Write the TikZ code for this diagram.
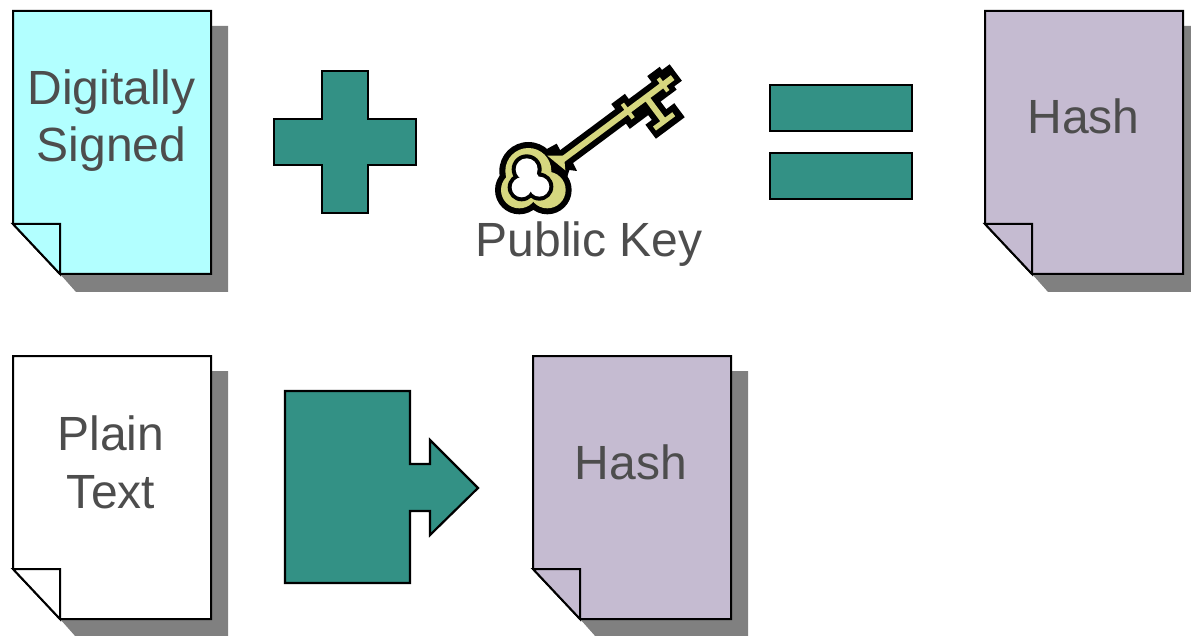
\documentclass[tikz,border=0pt]{standalone}
\usepackage{fontspec}
\setmainfont{Liberation Sans}
\definecolor{teal}{HTML}{339185}
\definecolor{hashc}{HTML}{C5BBD1}
\definecolor{cyanc}{HTML}{B2FFFF}
\definecolor{shad}{HTML}{808080}
\definecolor{txt}{HTML}{4D4D4D}
\definecolor{keyy}{HTML}{D6D77F}
\tikzset{
  docbody/.style={draw=black,line width=2pt,line join=miter},
  docshadow/.style={fill=shad,draw=none},
  tealshape/.style={fill=teal,draw=black,line width=2.2pt,line join=miter},
  label/.style={text=txt,font=\fontsize{48}{48}\selectfont,inner sep=0pt,anchor=base},
  keyframe/.style={shift={(562,160)},x={(.802pt,.597pt)},y={(.597pt,-.802pt)}},
  bowframe/.style={shift={(490,135)},x=0.3333pt,y=-0.3333pt}
}
\newcommand{\docsheet}[3]{%
  \fill[docshadow,shift={(#1,#2)}] (16,15) -- (215,15) -- (215,281) -- (63,281) -- (47,263) -- (16,230) -- cycle;
  \filldraw[docbody,fill=#3,shift={(#1,#2)}] (0,0) -- (198,0) -- (198,263) -- (47,263) -- (0,213) -- cycle;
  \draw[docbody,fill=#3,shift={(#1,#2)}] (0,213) -- (47,213) -- (47,263) -- cycle;
}
\begin{document}
\begin{tikzpicture}[x=1pt,y=-1pt]
\useasboundingbox (0,0) rectangle (1191,636);
\docsheet{13}{11}{cyanc}
\docsheet{985}{11}{hashc}
\docsheet{13}{356}{white}
\docsheet{533}{356}{hashc}
\node[label] (ds1) at (111.5,105) {Digitally};
\node[label] (ds2) at (111.5,162) {Signed};
\node[label] (h1) at (1083.5,133.5) {Hash};
\node[label] (pt1) at (111,450) {Plain};
\node[label] (pt2) at (111,508.5) {Text};
\node[label] (h2) at (631,479.5) {Hash};
\node[label] (pk) at (589,257) {Public Key};
% plus
\draw[tealshape] (322,71) -- (368,71) -- (368,119) -- (416,119) -- (416,165) -- (368,165) -- (368,213) -- (322,213) -- (322,165) -- (274,165) -- (274,119) -- (322,119) -- cycle;
% equals
\draw[tealshape] (770,85) rectangle (912,131);
\draw[tealshape] (770,153) rectangle (912,199);
% block arrow
\draw[tealshape] (285,391) -- (410,391) -- (410,464) -- (430,464) -- (430,440) -- (478,488) -- (430,535) -- (430,511) -- (410,511) -- (410,583) -- (285,583) -- cycle;
% key: shaft, collars and tooth in a frame along the shaft
\def\keybody{(0,-3) -- (80,-3) -- (80,-9) -- (84,-9) -- (84,-3) -- (124,-3) -- (124,-8) -- (128,-8) -- (128,-3) -- (138,-3) -- (138,3) -- (128,3) -- (128,8) -- (124,8) -- (124,3) -- (108,3) -- (108,27.5) -- (117,27.5) -- (117,32.5) -- (93,32.5) -- (93,27.5) -- (102,27.5) -- (102,3) -- (84,3) -- (84,9) -- (80,9) -- (80,3) -- (0,3) -- cycle}
\begin{scope}[keyframe]
  \fill[black] (0,-9) -- (73,-9) -- (73,-15.5) -- (90,-15.5) -- (90,-9) -- (118.5,-9) -- (118.5,-16.4) -- (134,-16.4) -- (134,-12.5) -- (143.5,-12.5) -- (143.5,8) -- (134,8) -- (134,12) -- (114,12) -- (114,21.5) -- (124,21.5) -- (124,39) -- (88,39) -- (88,21.5) -- (96,21.5) -- (96,15.5) -- (73,15.5) -- (73,9) -- (0,9) -- cycle;
\end{scope}
\begin{scope}[bowframe]
  \fill[black] (165,45) -- (200,26) -- (212,48) -- (245,75) -- (261,108) -- (238,105) -- (232,125) -- (190,100) -- cycle;
  \foreach \x/\y/\r in {115/108/87, 88/165/73, 172/165/73}{\fill[black] (\x,\y) circle (\r);}
  \foreach \x/\y/\r in {115/108/69, 88/165/55, 172/165/55}{\fill[keyy] (\x,\y) circle (\r);}
  \fill[keyy] (172,62) -- (222,62) -- (226,106) -- cycle;
\end{scope}
\begin{scope}[keyframe]
  \fill[keyy] \keybody;
\end{scope}
\begin{scope}[bowframe]
  \foreach \x/\y/\r in {110/103/45, 95/157/42, 148/155/42}{\fill[black] (\x,\y) circle (\r);}
  \foreach \x/\y/\r in {110/103/33, 95/157/30, 148/155/30, 120/135/28}{\fill[white] (\x,\y) circle (\r);}
\end{scope}
\end{tikzpicture}
\end{document}
